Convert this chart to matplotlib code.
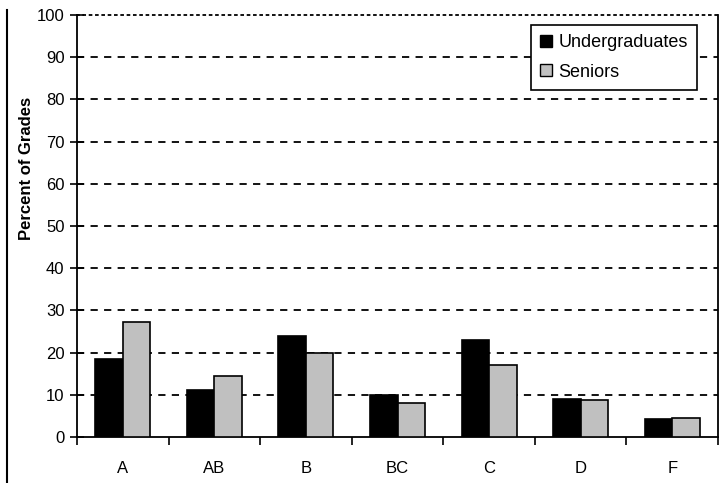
import numpy as np
import matplotlib.pyplot as plt
from matplotlib.lines import Line2D
from matplotlib.patches import Patch

plt.rcParams['font.family'] = ['Liberation Sans', 'DejaVu Sans']

# Répartition des notes (en %)
grades = ['A', 'AB', 'B', 'BC', 'C', 'D', 'F']
undergrads = [18.6, 11.1, 24.0, 10.0, 23.0, 9.0, 4.3]
seniors = [27.3, 14.5, 20.0, 8.0, 17.0, 8.8, 4.4]

fig = plt.figure(figsize=(7.21, 4.83), dpi=100)
ax = fig.add_axes([77 / 721, 1 - 437 / 483, 641 / 721, 422 / 483])

x = np.arange(len(grades))
w = 0.30
ax.bar(x - w / 2, undergrads, w, color='black', edgecolor='black', linewidth=1.2,
       label='Undergraduates', zorder=3)
ax.bar(x + w / 2, seniors, w, color='#c0c0c0', edgecolor='black', linewidth=1.2,
       label='Seniors', zorder=3)

# quadrillage en tirets
for yv in range(10, 100, 10):
    ax.axhline(yv, color='black', ls=(0, (4, 3.5)), lw=1.3, zorder=1)

ax.set_xlim(-0.5, len(grades) - 0.5)
ax.set_ylim(0, 100)
ax.set_yticks(range(0, 101, 10))
ax.set_xticks(x)
ax.set_xticklabels(grades)
ax.set_xticks(np.arange(-0.5, len(grades), 1), minor=True)

ax.tick_params(axis='y', direction='inout', length=10, width=1.2, labelsize=12, pad=4)
ax.tick_params(axis='x', which='major', length=0, labelsize=12, pad=17)
ax.tick_params(axis='x', which='minor', direction='out', length=6, width=1.2)

for s in ['left', 'bottom', 'right']:
    ax.spines[s].set_linewidth(1.3)
ax.spines['top'].set_linestyle((0, (1, 2.5)))
ax.spines['top'].set_linewidth(1.3)

# titre de l'axe y, un peu au-dessus du centre
fig.text(27 / 721, 1 - 168 / 483, 'Percent of Grades', rotation=90,
         ha='center', va='center', fontsize=12, fontweight='bold')

handles = [Patch(facecolor='black', edgecolor='black', label='Undergraduates'),
           Patch(facecolor='#c0c0c0', edgecolor='black', label='Seniors')]
leg = ax.legend(handles=handles, loc='upper right', bbox_to_anchor=(0.967, 0.976),
                fontsize=13, fancybox=False, shadow=False, framealpha=1,
                edgecolor='black', handlelength=0.65, handleheight=0.65,
                handletextpad=0.35, borderpad=0.5, labelspacing=0.7,
                borderaxespad=0)
leg.get_frame().set_linewidth(1.2)

# trait vertical à gauche de la figure
fig.add_artist(Line2D([7 / 721, 7 / 721], [0, 1 - 10 / 483], color='black', lw=1.5))

fig.savefig('out.png', dpi=100)
